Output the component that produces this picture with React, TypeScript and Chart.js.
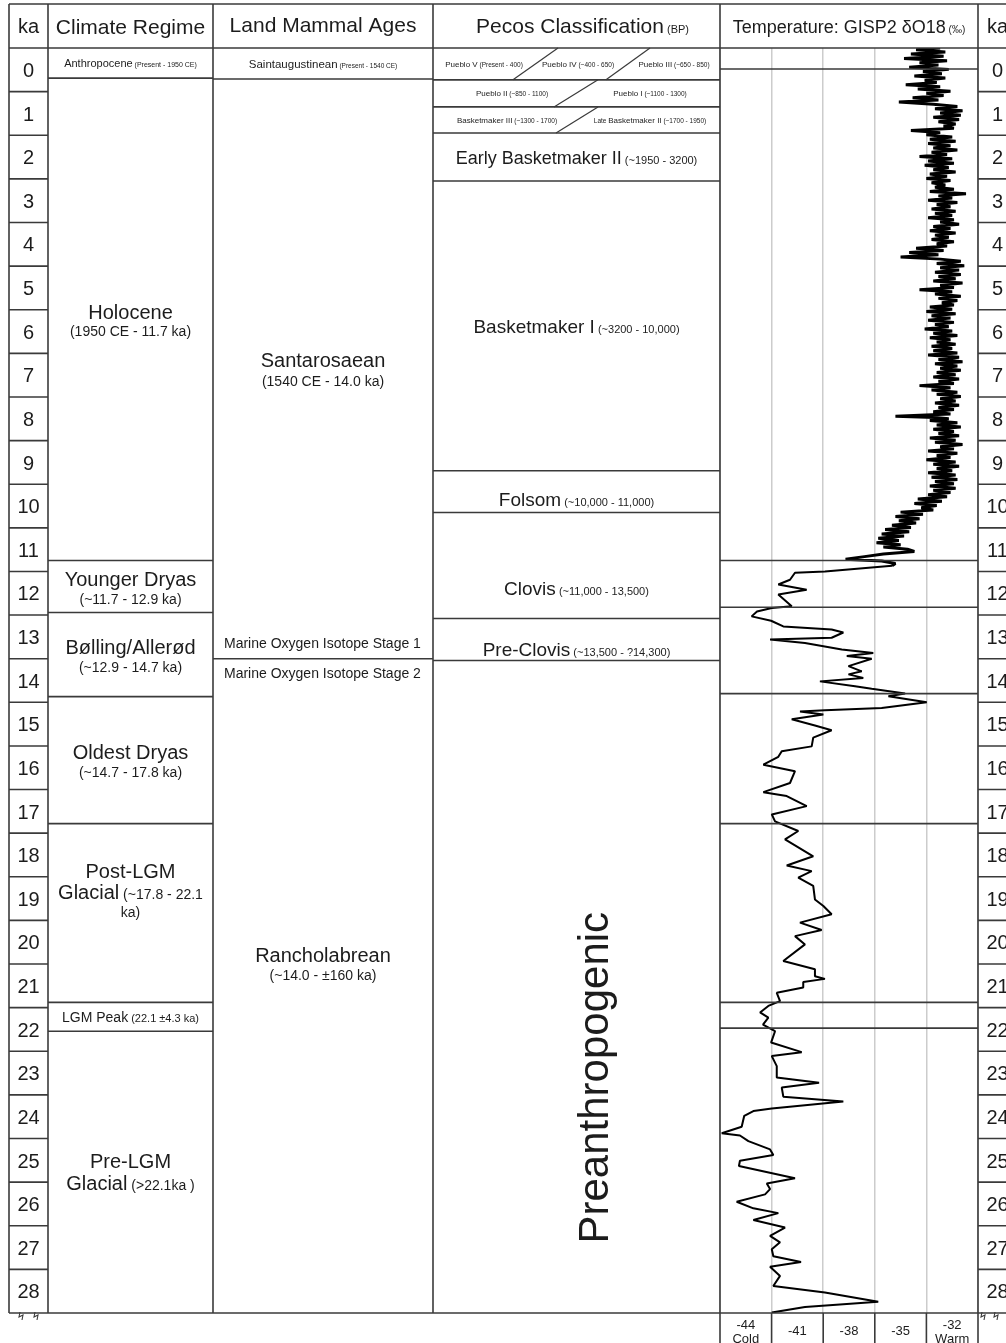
import React, { useEffect, useRef } from "react";
import { Chart, registerables } from "chart.js";

Chart.register(...registerables);

const FONT = '"Liberation Sans", Arial, Helvetica, sans-serif';

// ---------- data ----------
const kaRows = [0, 1, 2, 3, 4, 5, 6, 7, 8, 9, 10, 11, 12, 13, 14, 15, 16, 17, 18, 19, 20, 21, 22, 23, 24, 25, 26, 27, 28];
const kaMax = 29;

const tempMin = -44;
const tempMax = -29;
const tempStep = 3;
const tempAxisLabels = ["-44", "-41", "-38", "-35", "-32"];
const tempAxisNotes = ["Cold", "", "", "", "Warm"];

const headerTitles = ["ka", "Climate Regime", "Land Mammal Ages", "Pecos Classification", "Temperature: GISP2 δO18", "ka"];
const headerNotes = ["", "", "", "(BP)", "(‰)", ""];

const climateNames = ["Anthropocene", "Holocene", "Younger Dryas", "Bølling/Allerød", "Oldest Dryas", "Post-LGM Glacial", "LGM Peak", "Pre-LGM Glacial"];
const climateNotes = ["(Present - 1950 CE)", "(1950 CE - 11.7 ka)", "(~11.7 - 12.9 ka)", "(~12.9 - 14.7 ka)", "(~14.7 - 17.8 ka)", "(~17.8 - 22.1 ka)", "(22.1 ±4.3 ka)", "(>22.1ka )"];
const climateBounds = [0, 0.69, 11.75, 12.94, 14.87, 17.78, 21.88, 22.54, 29];

const mammalNames = ["Saintaugustinean", "Santarosaean", "Rancholabrean"];
const mammalNotes = ["(Present - 1540 CE)", "(1540 CE - 14.0 ka)", "(~14.0 - ±160 ka)"];
const mammalBounds = [0, 0.71, 14.0, 29];
const isotopeStages = ["Marine Oxygen Isotope Stage 1", "Marine Oxygen Isotope Stage 2"];

const puebloNames = [["Pueblo V", "Pueblo IV", "Pueblo III"], ["Pueblo II", "Pueblo I"], ["Basketmaker III", "Basketmaker II"]];
const puebloNotes = [["(Present - 400)", "(~400 - 650)", "(~650 - 850)"], ["(~850 - 1100)", "(~1100 - 1300)"], ["(~1300 - 1700)", "(~1700 - 1950)"]];
const pecosNames = ["Early Basketmaker II", "Basketmaker I", "Folsom", "Clovis", "Pre-Clovis", "Preanthropogenic"];
const pecosNotes = ["(~1950 - 3200)", "(~3200 - 10,000)", "(~10,000 - 11,000)", "(~11,000 - 13,500)", "(~13,500 - ?14,300)", ""];
const pecosBounds = [0, 0.73, 1.35, 1.95, 3.05, 9.69, 10.65, 13.08, 14.04, 29];

const tempLines = [0.48, 11.75, 12.82, 14.8, 17.78, 21.88, 22.47];

// [ka, d18O]
const holoceneD18O: [number, number][] = [
  [0.00, -31.2], [0.04, -32.6], [0.09, -30.9], [0.14, -32.9], [0.19, -31.0], [0.24, -33.3], [0.29, -30.8], [0.34, -32.4], [0.39, -31.3], [0.44, -33.0],
  [0.49, -30.7], [0.54, -32.2], [0.59, -31.1], [0.64, -32.7], [0.69, -30.9], [0.74, -32.1], [0.79, -31.4], [0.84, -33.2], [0.89, -31.2], [0.94, -32.5],
  [0.99, -30.6], [1.04, -32.0], [1.09, -31.0], [1.14, -32.8], [1.19, -31.3], [1.24, -33.6], [1.29, -31.6],
  [1.34, -30.2], [1.39, -31.5], [1.44, -29.9], [1.49, -31.2], [1.54, -30.0], [1.59, -31.6], [1.64, -30.1], [1.69, -31.3], [1.74, -30.3], [1.79, -31.0],
  [1.84, -30.4], [1.89, -32.9], [1.94, -31.2], [1.99, -32.0], [2.04, -30.5], [2.09, -31.8], [2.14, -30.3], [2.19, -31.9], [2.24, -30.6], [2.29, -31.6],
  [2.34, -30.2], [2.39, -31.7], [2.44, -30.8], [2.49, -32.4],
  [2.54, -30.5], [2.59, -31.9], [2.64, -30.4], [2.69, -32.1], [2.74, -30.7], [2.79, -31.6], [2.84, -30.3], [2.89, -31.8], [2.94, -30.8], [2.99, -32.0],
  [3.04, -30.6], [3.09, -31.7], [3.14, -30.9], [3.19, -31.5],
  [3.24, -30.4], [3.29, -31.8], [3.34, -29.7], [3.39, -31.3], [3.44, -30.5], [3.49, -31.9], [3.54, -30.2], [3.59, -31.4], [3.64, -30.6], [3.69, -31.7],
  [3.74, -30.3], [3.79, -31.5], [3.84, -30.5], [3.89, -31.9], [3.94, -30.4], [3.99, -31.2], [4.04, -30.1], [4.09, -31.6], [4.14, -30.6], [4.19, -31.8],
  [4.24, -30.3], [4.29, -31.5], [4.34, -30.7], [4.39, -31.7], [4.44, -30.4], [4.49, -31.4],
  [4.54, -30.8], [4.59, -32.6], [4.64, -31.0], [4.69, -33.0], [4.74, -31.3], [4.79, -33.5], [4.84, -31.2],
  [4.89, -30.0], [4.94, -31.4], [4.99, -29.8], [5.04, -31.2], [5.09, -30.1], [5.14, -31.5], [5.19, -30.0], [5.24, -31.3], [5.29, -30.3], [5.34, -31.6],
  [5.39, -29.9], [5.44, -31.2], [5.49, -30.4], [5.54, -32.4], [5.59, -30.5], [5.64, -31.5], [5.69, -30.0], [5.74, -31.3], [5.79, -30.2], [5.84, -31.1],
  [5.89, -30.4], [5.94, -31.8], [5.99, -30.5], [6.04, -32.0], [6.09, -30.3], [6.14, -31.7], [6.19, -30.6], [6.24, -31.9], [6.29, -30.4], [6.34, -31.5],
  [6.39, -30.7], [6.44, -32.1], [6.49, -30.5], [6.54, -31.6], [6.59, -30.2], [6.64, -31.8], [6.69, -30.6], [6.74, -31.4], [6.79, -30.3], [6.84, -31.7],
  [6.89, -30.5], [6.94, -31.6], [6.99, -30.2],
  [7.04, -31.9], [7.09, -30.1], [7.14, -31.3], [7.19, -29.9], [7.24, -31.5], [7.29, -30.2], [7.34, -31.2], [7.39, -30.0], [7.44, -31.4], [7.49, -30.3],
  [7.54, -31.6], [7.59, -30.1], [7.64, -31.3], [7.69, -30.4], [7.74, -32.4], [7.79, -30.6], [7.84, -31.7], [7.89, -30.2], [7.94, -31.4], [7.99, -30.0],
  [8.04, -31.2], [8.09, -30.3], [8.14, -31.5], [8.19, -30.1], [8.24, -31.3], [8.29, -30.4], [8.34, -31.6], [8.39, -30.6],
  [8.44, -33.8], [8.47, -31.5], [8.50, -30.7],
  [8.54, -31.8], [8.59, -30.2], [8.64, -31.4], [8.69, -30.0], [8.74, -31.6], [8.79, -30.4], [8.84, -31.3], [8.89, -30.1], [8.94, -31.8], [8.99, -30.3],
  [9.04, -31.5], [9.09, -29.9], [9.14, -31.2], [9.19, -30.4], [9.24, -31.9], [9.29, -30.2], [9.34, -31.4], [9.39, -30.6], [9.44, -32.0], [9.49, -30.3],
  [9.54, -31.6], [9.59, -30.1], [9.64, -31.4], [9.69, -30.5], [9.74, -31.9], [9.79, -30.3], [9.84, -31.7], [9.89, -30.2], [9.94, -31.5], [9.99, -30.4],
  [10.04, -31.8], [10.09, -30.3], [10.14, -31.6], [10.19, -30.6], [10.24, -31.9], [10.29, -30.8],
  [10.34, -32.5], [10.39, -31.1], [10.44, -32.7], [10.49, -31.4], [10.54, -32.3], [10.59, -31.6],
  [10.64, -33.5], [10.69, -32.2], [10.74, -33.8], [10.79, -32.4], [10.84, -33.6], [10.89, -32.6], [10.94, -34.0], [10.99, -32.9],
  [11.04, -34.4], [11.09, -33.0], [11.14, -34.6], [11.19, -33.3], [11.24, -34.8], [11.29, -33.6], [11.34, -34.9], [11.39, -33.5], [11.44, -34.5], [11.49, -33.1],
  [11.54, -32.7], [11.60, -34.5], [11.66, -35.6], [11.72, -36.7], [11.76, -34.6], [11.82, -33.8], [11.87, -34.0],
];

const glacialD18O: [number, number][] = [
  [11.87, -34.0],
  [12.00, -37.9], [12.03, -39.64], [12.19, -39.93], [12.30, -40.61], [12.42, -38.96], [12.53, -40.61], [12.80, -39.83], [12.84, -40.99], [12.92, -41.85],
  [13.03, -42.16], [13.13, -41.03], [13.26, -40.32], [13.33, -37.51], [13.40, -36.83], [13.52, -37.51], [13.56, -41.09], [13.64, -39.06], [13.79, -36.92],
  [13.87, -35.09], [13.94, -36.63], [14.00, -35.18], [14.17, -36.53], [14.29, -35.76], [14.36, -36.53], [14.44, -35.67], [14.52, -38.19], [14.63, -36.15],
  [14.69, -35.18], [14.80, -33.24], [14.86, -34.21], [15.00, -31.98], [15.13, -34.6], [15.18, -37.9], [15.21, -39.35], [15.28, -37.99], [15.39, -39.83],
  [15.53, -38.48], [15.64, -37.51], [15.81, -38.58], [16.01, -38.67], [16.12, -40.41], [16.25, -40.61], [16.43, -41.48], [16.58, -39.64], [16.85, -39.93],
  [17.06, -41.48], [17.15, -40.12], [17.38, -38.96], [17.57, -40.99], [17.73, -40.8], [17.95, -39.45], [18.14, -40.22], [18.53, -38.58], [18.74, -40.12],
  [18.87, -38.67], [19.02, -39.45], [19.21, -38.58], [19.52, -38.48], [19.67, -37.99], [19.86, -37.51], [20.05, -39.35], [20.22, -38.09], [20.36, -39.64],
  [20.55, -39.06], [20.93, -40.32], [21.12, -38.48], [21.28, -38.48], [21.34, -37.9], [21.41, -39.16], [21.54, -39.16], [21.66, -40.7], [21.85, -40.51],
  [21.96, -41.19], [22.11, -41.67], [22.23, -41.19], [22.39, -41.5], [22.54, -40.8], [22.80, -41.03], [23.02, -39.25], [23.11, -40.99], [23.34, -40.7],
  [23.60, -40.7], [23.72, -38.24], [23.83, -40.41], [24.04, -40.32], [24.15, -36.83], [24.31, -40.99], [24.37, -42.06], [24.48, -42.59], [24.73, -42.74],
  [24.88, -43.9], [24.93, -42.84], [25.06, -42.35], [25.25, -41.09], [25.38, -40.9], [25.51, -42.84], [25.63, -42.9], [25.91, -39.64], [26.03, -41.28],
  [26.16, -41.09], [26.28, -41.38], [26.45, -43.03], [26.60, -42.06], [26.71, -40.61], [26.87, -42.06], [27.04, -40.22], [27.23, -41.09], [27.38, -40.51],
  [27.54, -40.99], [27.70, -40.9], [27.83, -39.29], [27.94, -41.09], [28.15, -40.51], [28.38, -40.9], [28.53, -37.9], [28.74, -34.8], [28.86, -39.06],
  [28.99, -40.99],
];

// ---------- drawing helpers ----------
type Seg = [string, number];
const TEXT = "#1c1c1c";
const LINE = "#3a3a3a";

function rich(ctx: CanvasRenderingContext2D, segs: Seg[], x: number, cy: number, align: "center" | "left" = "center") {
  const main = Math.max(...segs.map((s) => s[1]));
  const base = cy + main * 0.36;
  const widths = segs.map(([t, s]) => {
    ctx.font = `${s}px ${FONT}`;
    return ctx.measureText(t).width;
  });
  const total = widths.reduce((a, b) => a + b, 0);
  let cx = align === "center" ? x - total / 2 : x;
  ctx.fillStyle = TEXT;
  ctx.textAlign = "left";
  ctx.textBaseline = "alphabetic";
  segs.forEach(([t, s], i) => {
    ctx.font = `${s}px ${FONT}`;
    ctx.fillText(t, cx, base);
    cx += widths[i];
  });
}

function hline(ctx: CanvasRenderingContext2D, x1: number, x2: number, y: number) {
  ctx.beginPath();
  ctx.moveTo(x1, y);
  ctx.lineTo(x2, y);
  ctx.stroke();
}
function vline(ctx: CanvasRenderingContext2D, x: number, y1: number, y2: number) {
  ctx.beginPath();
  ctx.moveTo(x, y1);
  ctx.lineTo(x, y2);
  ctx.stroke();
}
function breakMark(ctx: CanvasRenderingContext2D, x: number, y: number) {
  ctx.beginPath();
  ctx.moveTo(x - 1, y - 2);
  ctx.lineTo(x - 2, y + 3);
  ctx.lineTo(x + 2, y + 1);
  ctx.lineTo(x + 1, y + 6);
  ctx.stroke();
}

const tablePlugin = {
  id: "tablePlugin",
  beforeDraw(chart: any) {
    const { ctx, width, height } = chart;
    ctx.save();
    ctx.fillStyle = "#ffffff";
    ctx.fillRect(0, 0, width, height);
    ctx.restore();
  },
  afterDraw(chart: any) {
    const ctx: CanvasRenderingContext2D = chart.ctx;
    const ys = chart.scales.y;
    const xs = chart.scales.x;
    const area = chart.chartArea;
    const Y = (k: number) => ys.getPixelForValue(k);
    const top = 4;
    const hb = Y(0);
    const bottom = Y(kaMax);
    const cols = [9, 48, 213, 433, area.left, area.right, 1017];
    const mid = (i: number) => (cols[i] + cols[i + 1]) / 2;

    ctx.save();
    ctx.strokeStyle = LINE;
    ctx.lineWidth = 1.6;

    hline(ctx, cols[0], cols[6], top);
    hline(ctx, cols[0], cols[6], hb);
    hline(ctx, cols[0], cols[6], bottom);
    cols.forEach((x) => vline(ctx, x, top, bottom));

    kaRows.forEach((k) => {
      if (k > 0) {
        hline(ctx, cols[0], cols[1], Y(k));
        hline(ctx, cols[5], cols[6], Y(k));
      }
    });

    climateBounds.slice(1, -1).forEach((b) => hline(ctx, cols[1], cols[2], Y(b)));
    mammalBounds.slice(1, -1).forEach((b) => hline(ctx, cols[2], cols[3], Y(b)));
    pecosBounds.slice(1, -1).forEach((b) => hline(ctx, cols[3], cols[4], Y(b)));
    tempLines.forEach((b) => hline(ctx, cols[4], cols[5], Y(b)));

    const pl = cols[3];
    const diag = (x1: number, k1: number, x2: number, k2: number) => {
      ctx.beginPath();
      ctx.moveTo(pl + x1, Y(k1));
      ctx.lineTo(pl + x2, Y(k2));
      ctx.stroke();
    };
    ctx.lineWidth = 1.2;
    diag(80, pecosBounds[1], 125, pecosBounds[0]);
    diag(173, pecosBounds[1], 217, pecosBounds[0]);
    diag(121, pecosBounds[2], 165, pecosBounds[1]);
    diag(123, pecosBounds[3], 165, pecosBounds[2]);

    ctx.lineWidth = 1.6;
    for (let v = tempMin; v <= tempMax; v += tempStep) {
      vline(ctx, xs.getPixelForValue(v), bottom, bottom + 30);
    }
    tempAxisLabels.forEach((lab, i) => {
      const v0 = tempMin + i * tempStep;
      const cx = (xs.getPixelForValue(v0) + xs.getPixelForValue(v0 + tempStep)) / 2;
      if (tempAxisNotes[i]) {
        rich(ctx, [[lab, 13]], cx, bottom + 11);
        rich(ctx, [[tempAxisNotes[i], 13]], cx, bottom + 25);
      } else {
        rich(ctx, [[lab, 13]], cx, bottom + 17);
      }
    });

    ctx.lineWidth = 1.1;
    [21, 36, 983, 996].forEach((x) => breakMark(ctx, x, bottom + 1));

    const hc = (top + hb) / 2;
    rich(ctx, [[headerTitles[0], 20]], mid(0), hc);
    rich(ctx, [[headerTitles[1], 21]], mid(1), hc);
    rich(ctx, [[headerTitles[2], 21]], mid(2), hc - 2);
    rich(ctx, [[headerTitles[3], 21], [" " + headerNotes[3], 11]], mid(3) + 6, hc - 1);
    rich(ctx, [[headerTitles[4], 18], [" " + headerNotes[4], 10]], mid(4), hc + 1);
    rich(ctx, [[headerTitles[5], 20]], mid(5), hc);

    kaRows.forEach((k) => {
      rich(ctx, [[String(k), 20]], mid(0), Y(k + 0.5));
      rich(ctx, [[String(k), 20]], mid(5), Y(k + 0.5));
    });

    const cc = (i: number) => (Y(climateBounds[i]) + Y(climateBounds[i + 1])) / 2;
    const cx1 = mid(1);
    rich(ctx, [[climateNames[0], 11], [" " + climateNotes[0], 7]], cx1, cc(0));
    for (const i of [1, 2, 3, 4]) {
      rich(ctx, [[climateNames[i], 20]], cx1, cc(i) - 8);
      rich(ctx, [[climateNotes[i], 14]], cx1, cc(i) + 12);
    }
    {
      const parts = climateNames[5].split(" ");
      const note = climateNotes[5].split(" ka)")[0];
      rich(ctx, [[parts[0], 20]], cx1, cc(5) - 42);
      rich(ctx, [[parts[1], 20], [" " + note, 14]], cx1, cc(5) - 21);
      rich(ctx, [["ka)", 14]], cx1, cc(5) - 1);
    }
    rich(ctx, [[climateNames[6], 14], [" " + climateNotes[6], 11]], cx1, cc(6));
    {
      const parts = climateNames[7].split(" ");
      rich(ctx, [[parts[0], 20]], cx1, cc(7) - 11);
      rich(ctx, [[parts[1], 20], [" " + climateNotes[7], 14]], cx1, cc(7) + 11);
    }

    const mc = (i: number) => (Y(mammalBounds[i]) + Y(mammalBounds[i + 1])) / 2;
    const cx2 = mid(2);
    rich(ctx, [[mammalNames[0], 11.5], [" " + mammalNotes[0], 6.5]], cx2, mc(0));
    rich(ctx, [[mammalNames[1], 20]], cx2, mc(1) - 9);
    rich(ctx, [[mammalNotes[1], 14]], cx2, mc(1) + 12);
    rich(ctx, [[mammalNames[2], 20]], cx2, mc(2) - 31);
    rich(ctx, [[mammalNotes[2], 14]], cx2, mc(2) - 11);
    rich(ctx, [[isotopeStages[0], 14]], cols[2] + 11, Y(mammalBounds[2]) - 16, "left");
    rich(ctx, [[isotopeStages[1], 14]], cols[2] + 11, Y(mammalBounds[2]) + 14, "left");

    const pc = (i: number) => (Y(pecosBounds[i]) + Y(pecosBounds[i + 1])) / 2;
    const cx3 = mid(3);
    const rowX = [[51, 145, 241], [79, 217], [74, 217]];
    puebloNames.forEach((row, r) => {
      row.forEach((name, j) => {
        const segs: Seg[] = [];
        if (r === 2 && j === 1) segs.push(["Late ", 6.5]);
        segs.push([name, 8]);
        segs.push([" " + puebloNotes[r][j], 6.5]);
        rich(ctx, segs, pl + rowX[r][j], pc(r));
      });
    });
    rich(ctx, [[pecosNames[0], 18], [" " + pecosNotes[0], 11]], cx3, pc(3));
    rich(ctx, [[pecosNames[1], 19], [" " + pecosNotes[1], 11]], cx3, pc(4));
    rich(ctx, [[pecosNames[2], 19], [" " + pecosNotes[2], 11]], cx3, pc(5) + 8);
    rich(ctx, [[pecosNames[3], 19], [" " + pecosNotes[3], 11]], cx3, pc(6) + 23);
    rich(ctx, [[pecosNames[4], 19], [" " + pecosNotes[4], 11]], cx3, pc(7) + 10);
    ctx.save();
    ctx.translate(593, pc(8) + 91);
    ctx.rotate(-Math.PI / 2);
    rich(ctx, [[pecosNames[5], 42]], 0, 0);
    ctx.restore();

    ctx.restore();
  },
};

export default function App() {
  const ref = useRef<HTMLCanvasElement | null>(null);
  useEffect(() => {
    if (!ref.current) return;
    const toPts = (arr: [number, number][]) => arr.map(([ka, v]) => ({ x: v, y: ka }));
    const chart = new Chart(ref.current, {
      type: "scatter",
      data: {
        datasets: [
          {
            data: toPts(holoceneD18O),
            showLine: true,
            borderColor: "#000000",
            borderWidth: 3,
            borderJoinStyle: "bevel",
            pointRadius: 0,
            tension: 0,
          } as any,
          {
            data: toPts(glacialD18O),
            showLine: true,
            borderColor: "#000000",
            borderWidth: 2,
            borderJoinStyle: "bevel",
            pointRadius: 0,
            tension: 0,
          } as any,
        ],
      },
      options: {
        responsive: false,
        animation: false,
        devicePixelRatio: 1,
        layout: { padding: { left: 720, right: 28, top: 48, bottom: 30 } },
        plugins: { legend: { display: false }, tooltip: { enabled: false } },
        scales: {
          x: {
            type: "linear",
            min: tempMin,
            max: tempMax,
            ticks: { display: false, stepSize: tempStep },
            grid: { color: "#cccccc", lineWidth: 1.5, drawTicks: false },
            border: { display: false },
          },
          y: { type: "linear", min: 0, max: kaMax, reverse: true, display: false },
        },
      },
      plugins: [tablePlugin],
    });
    return () => chart.destroy();
  }, []);
  return (
    <div style={{ position: "absolute", left: 0, top: 0, width: 1006, height: 1343 }}>
      <canvas ref={ref} width={1006} height={1343} style={{ display: "block", width: 1006, height: 1343 }} />
    </div>
  );
}
